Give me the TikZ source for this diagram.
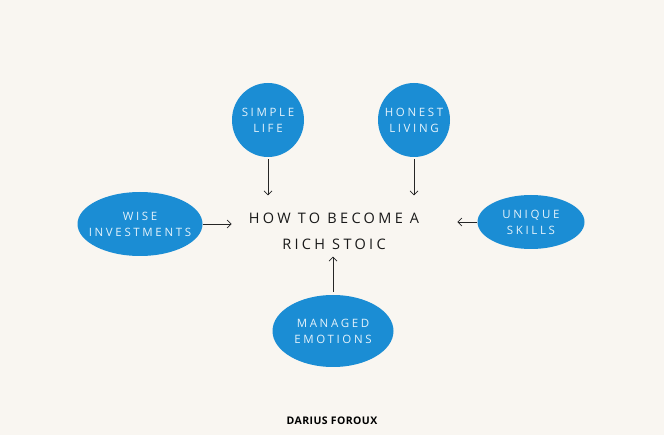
\documentclass[tikz,border=0pt]{standalone}
\usepackage{fontspec}
\setmainfont{Open Sans}
\usetikzlibrary{arrows.meta,positioning,shapes.geometric}
\definecolor{StoicBg}{HTML}{F9F6F1}
\definecolor{StoicBlue}{HTML}{1B8DD4}
\definecolor{StoicText}{HTML}{E3F2FB}
\newfontfamily\handfont[LetterSpace=23]{Open Sans}
\newfontfamily\signfont[LetterSpace=4]{Open Sans}

\begin{document}
\begin{tikzpicture}[x=1pt,y=-1pt]
    \tikzset{b/.style={ellipse,fill=StoicBlue,text=StoicText,inner xsep=-20pt,inner ysep=-10pt,
      align=center,font=\handfont\fontsize{11.5}{16}\selectfont},
      arr/.style={-{Straight Barb[length=4pt,width=8pt]},line width=0.7pt,black!85}}
    \fill[StoicBg] (0,0) rectangle (664,435);
    \node[b,minimum width=72pt,minimum height=74pt] (simple) at (268,120) {SIMPLE\\LIFE};
    \node[b,minimum width=72pt,minimum height=74pt] (honest) at (414,120) {HONEST\\LIVING};
    \node[b,minimum width=125pt,minimum height=64pt] (wise) at (140,224) {WISE\\INVESTMENTS};
    \node[b,minimum width=107pt,minimum height=54pt] (unique) at (531,222) {UNIQUE\\SKILLS};
    \node[b,minimum width=121pt,minimum height=72pt] (managed) at (333,331) {MANAGED\\EMOTIONS};
    \node[align=center,inner xsep=17pt,inner ysep=7pt,text=black!90,
      font=\handfont\fontsize{14.5}{26}\selectfont] (title) at (334,231) {HOW TO BECOME A\\RICH STOIC};
    \node[font=\signfont\bfseries\fontsize{10.5}{13}\selectfont] (author) at (332,421) {DARIUS FOROUX};
    \draw[arr,shorten <=2pt,shorten >=10pt] (simple) -- (simple |- title.north);
    \draw[arr,shorten <=2pt,shorten >=10pt] (honest) -- (honest |- title.north);
    \draw[arr] (wise.east) -- (wise.east -| title.west);
    \draw[arr,shorten >=21pt] (unique.west) -- (unique.west -| title.east);
    \draw[arr,shorten <=3pt] (managed) -- (managed |- title.south);
  \end{tikzpicture}
\end{document}
